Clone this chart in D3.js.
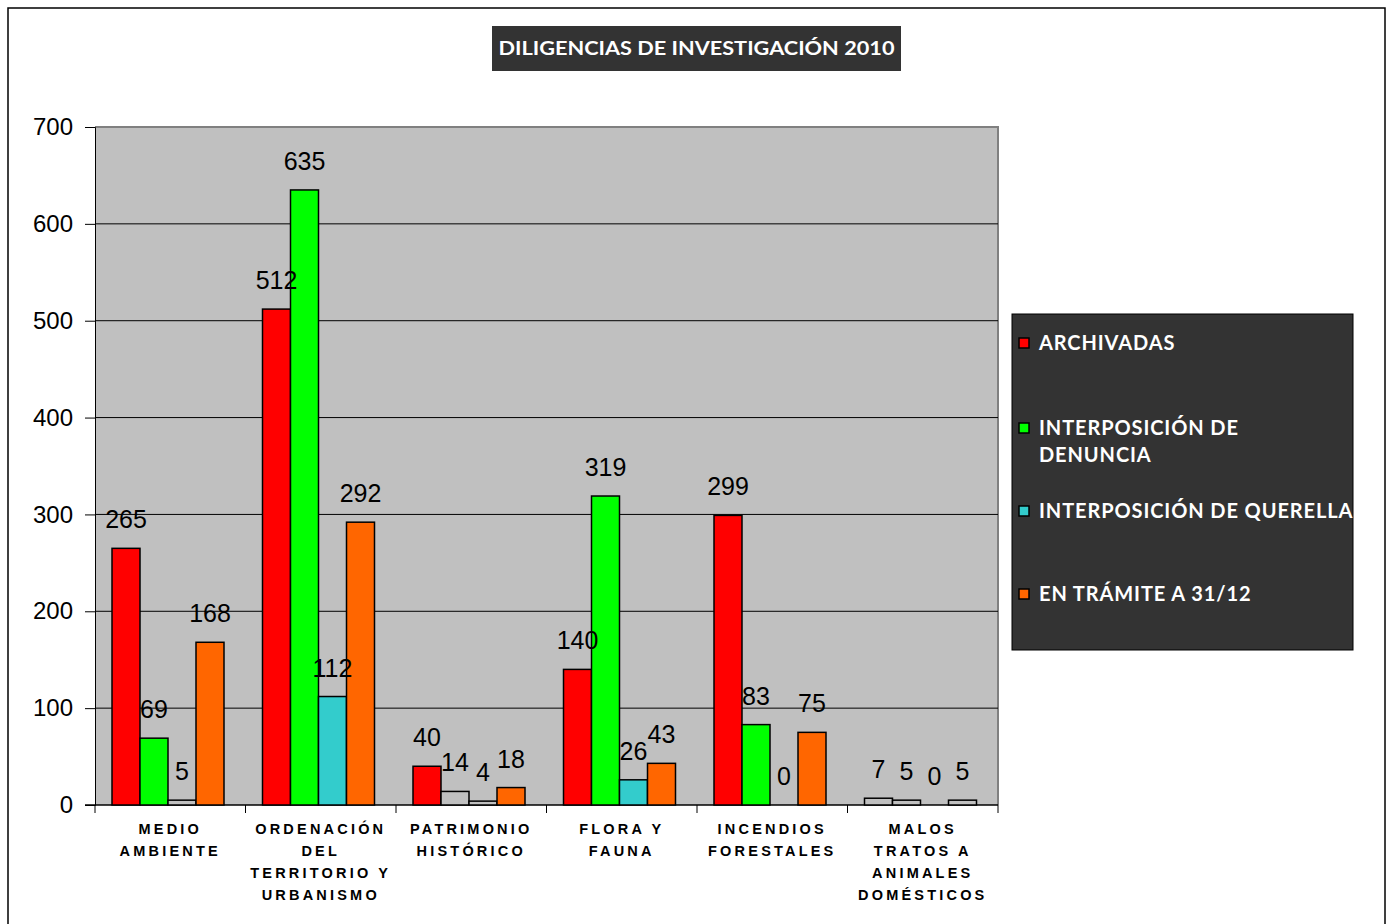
<!DOCTYPE html>
<html><head><meta charset="utf-8">
<script src="https://cdn.jsdelivr.net/npm/d3@7"></script>
<style>body{margin:0;background:#fff}svg{display:block}</style>
</head><body>
<svg id="c" width="1391" height="924"></svg>
<script>
const categories = [
  ["MEDIO","AMBIENTE"],
  ["ORDENACIÓN","DEL","TERRITORIO Y","URBANISMO"],
  ["PATRIMONIO","HISTÓRICO"],
  ["FLORA Y","FAUNA"],
  ["INCENDIOS","FORESTALES"],
  ["MALOS","TRATOS A","ANIMALES","DOMÉSTICOS"]
];
const seriesNames = ["ARCHIVADAS","INTERPOSICIÓN DE DENUNCIA","INTERPOSICIÓN DE QUERELLA","EN TRÁMITE A 31/12"];
const legendLines = [["ARCHIVADAS"],["INTERPOSICIÓN DE","DENUNCIA"],["INTERPOSICIÓN DE QUERELLA"],["EN TRÁMITE A 31/12"]];
const archivadas = [265,512,40,140,299,7];
const denuncia   = [69,635,14,319,83,5];
const querella   = [5,112,4,26,0,0];
const tramite    = [168,292,18,43,75,5];
const yTicks = [0,100,200,300,400,500,600,700];
const title = "DILIGENCIAS DE INVESTIGACIÓN 2010";

const colors = ["#ff0000","#00ff00","#33cccc","#ff6600"];
const series = [archivadas, denuncia, querella, tramite];

const svg = d3.select("#c");
svg.append("rect").attr("x",8).attr("y",8).attr("width",1377).attr("height",930)
  .attr("fill","#fff").attr("stroke","#000").attr("stroke-width",1.5);

const L=95, R=998, T=127, B=805;
const idx = d3.range(categories.length);
const x0 = d3.scaleBand().domain(idx).range([L,R]).paddingInner(0).paddingOuter(0);
const x1 = d3.scaleBand().domain(d3.range(series.length)).range([17, x0.bandwidth()-21.5]);
const y = d3.scaleLinear().domain([0,700]).range([B,T]);

svg.append("rect").attr("x",L).attr("y",T).attr("width",R-L).attr("height",B-T).attr("fill","#c0c0c0");
svg.append("path").attr("d",`M${L},${T}H${R}V${B}`).attr("fill","none").attr("stroke","#808080").attr("stroke-width",2);
svg.append("g").selectAll("line").data(yTicks.filter(t=>t>0&&t<700)).join("line")
  .attr("x1",L).attr("x2",R).attr("y1",d=>y(d)).attr("y2",d=>y(d)).attr("stroke","#000").attr("stroke-width",1);

const ya = svg.append("g").attr("transform",`translate(${L},0)`)
  .call(d3.axisLeft(y).tickValues(yTicks).tickSize(10).tickPadding(12).tickFormat(d3.format("d")));
ya.select(".domain").attr("stroke","#000").attr("stroke-width",1);
ya.selectAll("line").attr("stroke","#000");
ya.selectAll("text").attr("font-family","Liberation Sans, Arial, sans-serif").attr("font-size",24).attr("fill","#000");

const xa = svg.append("g").attr("transform",`translate(0,${B})`);
xa.append("line").attr("x1",L-10).attr("x2",R).attr("y1",0).attr("y2",0).attr("stroke","#000").attr("stroke-width",1.5);
xa.selectAll("line.tk").data(d3.range(categories.length+1)).join("line").attr("class","tk")
  .attr("x1",d=>L+d*x0.step()).attr("x2",d=>L+d*x0.step()).attr("y1",0).attr("y2",8).attr("stroke","#000");
xa.selectAll("text.cat").data(categories).join("text").attr("class","cat")
  .attr("x",(d,i)=>x0(i)+x0.bandwidth()/2).attr("y",29)
  .attr("text-anchor","middle").attr("font-family","Liberation Sans, Arial, sans-serif")
  .attr("font-weight","bold").attr("font-size",14.5).attr("letter-spacing",3.2)
  .each(function(d){
    const t=d3.select(this);
    d.forEach((ln,j)=>t.append("tspan").attr("x",t.attr("x")).attr("dy",j?22:0).text(ln));
  });

const flat = [];
series.forEach((vals,s)=>vals.forEach((v,i)=>flat.push({v,i,s})));
const g = svg.append("g");
g.selectAll("rect").data(flat.filter(d=>d.v>0)).join("rect")
  .attr("x",d=>x0(d.i)+x1(d.s)).attr("width",x1.bandwidth())
  .attr("y",d=>y(d.v)).attr("height",d=>y(0)-y(d.v))
  .attr("fill",d=>d.v<15?"#c0c0c0":colors[d.s]).attr("stroke","#000").attr("stroke-width",1.5);
g.selectAll("text").data(flat).join("text")
  .attr("x",d=>x0(d.i)+x1(d.s)+x1.bandwidth()/2).attr("y",d=>y(d.v)-20)
  .attr("text-anchor","middle").attr("font-family","Liberation Sans, Arial, sans-serif")
  .attr("font-size",25).attr("fill","#000").text(d=>d.v);

svg.append("rect").attr("x",492).attr("y",26).attr("width",409).attr("height",45).attr("fill","#333333");
svg.append("text").attr("x",696.5).attr("y",55).attr("text-anchor","middle")
  .attr("font-family","Lato, 'Open Sans', sans-serif").attr("font-weight","bold").attr("font-size",18)
  .attr("fill","#fff").attr("textLength",396).attr("lengthAdjust","spacingAndGlyphs").text(title);

svg.append("rect").attr("x",1012).attr("y",314).attr("width",341).attr("height",336)
  .attr("fill","#333333").attr("stroke","#000").attr("stroke-width",1);
const legY = [343,428,511,594];
const lg = svg.append("g");
seriesNames.forEach((n,i)=>{
  lg.append("rect").attr("x",1019).attr("y",legY[i]-5).attr("width",10).attr("height",10)
    .attr("fill",colors[i]).attr("stroke","#000").attr("stroke-width",1.5);
  const t = lg.append("text").attr("x",1039).attr("y",legY[i]+7)
    .attr("font-family","Lato, 'Open Sans', sans-serif").attr("font-weight","bold").attr("font-size",20)
    .attr("letter-spacing",0.9).attr("fill","#fff");
  legendLines[i].forEach((ln,j)=>t.append("tspan").attr("x",1039).attr("dy",j?27:0).text(ln));
});
</script>
</body></html>
